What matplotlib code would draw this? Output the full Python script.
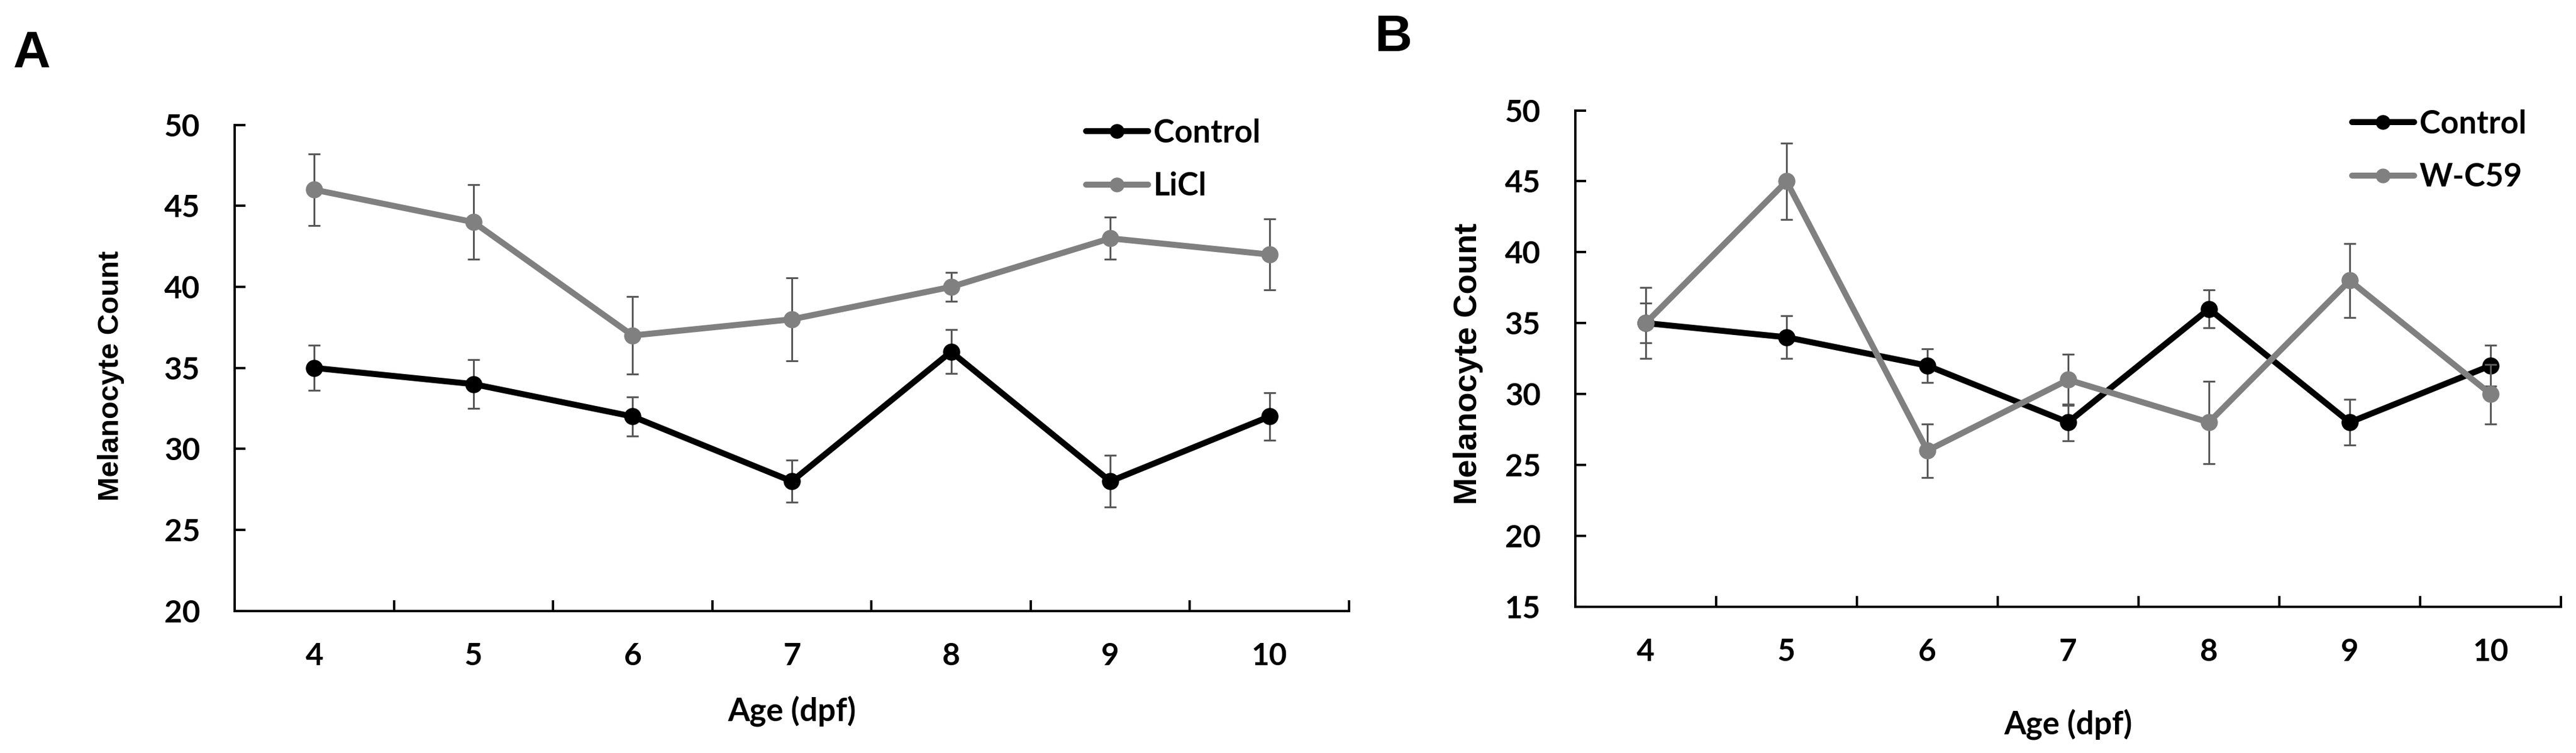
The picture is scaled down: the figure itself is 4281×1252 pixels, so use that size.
import numpy as np
import matplotlib
matplotlib.use("Agg")
from matplotlib import pyplot as plt
from matplotlib.ticker import FixedLocator

plt.rcParams['font.family'] = ['Lato', 'DejaVu Sans']
plt.rcParams['font.weight'] = 'bold'
plt.rcParams['axes.labelweight'] = 'bold'
arial = ['Liberation Sans', 'DejaVu Sans']

# data
days = [4, 5, 6, 7, 8, 9, 10]
control = [35, 34, 32, 28, 36, 28, 32]
control_err = [1.4, 1.5, 1.2, 1.3, 1.35, 1.6, 1.45]
licl = [46, 44, 37, 38, 40, 43, 42]
licl_err = [2.2, 2.3, 2.4, 2.55, 0.9, 1.3, 2.2]
wc59 = [35, 45, 26, 31, 28, 38, 30]
wc59_err = [2.5, 2.7, 1.9, 1.8, 2.9, 2.6, 2.1]

W, H = 4281, 1252
fig = plt.figure(figsize=(W / 100, H / 100), dpi=100)

axA = fig.add_axes([390 / W, 1 - 1015.7 / H, 1852 / W, 808 / H])
axB = fig.add_axes([2618 / W, 1 - 1008.6 / H, 1638 / W, 825 / H])

ecol = '#595959'
gray = '#808080'


def draw(ax, z, y, yerr, color, label):
    ax.errorbar(days, y, yerr=yerr, fmt='none', ecolor=ecol, elinewidth=2.2,
                capsize=7.5, capthick=2.2, zorder=z)
    ln, = ax.plot(days, y, color=color, lw=7.2, marker='o', ms=19.5,
                  solid_joinstyle='round', solid_capstyle='round',
                  label=label, zorder=z + 0.5)
    return ln


def style(ax, ylo, yhi, ylab_size, ylab_xy, xlab_y, leg_xy, handles):
    ax.set_xlim(3.5, 10.5)
    ax.set_ylim(ylo, yhi)
    ax.set_yticks(np.arange(ylo, yhi + 1, 5))
    ax.set_xticks(days)
    ax.xaxis.set_minor_locator(FixedLocator(np.arange(3.5, 11, 1)))
    for s in ['top', 'right']:
        ax.spines[s].set_visible(False)
    for s in ['left', 'bottom']:
        ax.spines[s].set_linewidth(2.8)
    ax.tick_params(axis='x', which='major', length=0, pad=37.5, labelsize=37)
    ax.tick_params(axis='x', which='minor', direction='in', length=13, width=2.8)
    ax.tick_params(axis='y', which='major', direction='in', length=13, width=2.8,
                   pad=41.5, labelsize=37)
    ax.set_ylabel('Melanocyte Count', family=arial, weight='bold', fontsize=ylab_size)
    ax.yaxis.set_label_coords(*ylab_xy)
    ax.yaxis.label.set_va('center')
    ax.set_xlabel('Age (dpf)', fontsize=38, weight='bold')
    ax.xaxis.set_label_coords(0.5, xlab_y)
    ax.xaxis.label.set_va('center')
    ax.legend(handles=handles, loc='center left', bbox_to_anchor=leg_xy,
              frameon=False, fontsize=38, handlelength=1.95, handletextpad=0.17,
              labelspacing=0.75, borderpad=0, borderaxespad=0, markerscale=0.85)


hA = [draw(axA, 2, control, control_err, 'black', 'Control'),
      draw(axA, 3, licl, licl_err, gray, 'LiCl')]
style(axA, 20, 50, 34.8, (-0.1112, 0.4836), -0.2058, (0.764, 0.9285), hA)

hB = [draw(axB, 2, control, control_err, 'black', 'Control'),
      draw(axB, 3, wc59, wc59_err, gray, 'W-C59')]
style(axB, 15, 50, 39.2, (-0.1087, 0.4899), -0.2368, (0.788, 0.919), hB)

fig.text(52.6 / W, 1 - 112 / H, 'A', ha='center', va='baseline', fontsize=62,
         weight='bold', family=arial)
fig.text(2315 / W, 1 - 85 / H, 'B', ha='center', va='baseline', fontsize=62,
         weight='bold', family=arial)

fig.savefig('out.png', dpi=100, facecolor='white')
